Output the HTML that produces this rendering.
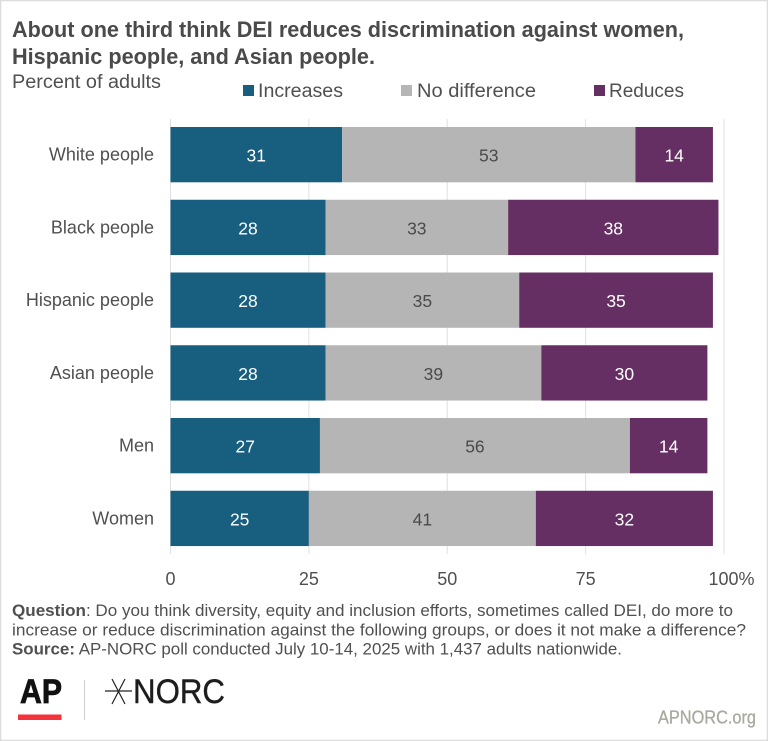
<!DOCTYPE html>
<html>
<head>
<meta charset="utf-8">
<style>
html,body{margin:0;padding:0;background:#fff;width:768px;height:741px;overflow:hidden}
svg{display:block;font-family:"Liberation Sans",sans-serif}
</style>
</head>
<body>
<svg id="chart" width="768" height="741" viewBox="0 0 768 741" xmlns="http://www.w3.org/2000/svg">
<rect x="0.5" y="0.5" width="767" height="740" fill="#fff" stroke="#dcdcdc" stroke-width="1.5"/>
<g font-weight="700" font-size="22" fill="#4a4a4a">
<text x="12" y="37" textLength="672" lengthAdjust="spacingAndGlyphs">About one third think DEI reduces discrimination against women,</text>
<text x="12" y="64" textLength="363" lengthAdjust="spacingAndGlyphs">Hispanic people, and Asian people.</text>
</g>
<text x="12" y="88" font-size="19" fill="#505050" textLength="149" lengthAdjust="spacingAndGlyphs">Percent of adults</text>
<g font-size="19" fill="#505050">
<g><rect x="243" y="85" width="11" height="11" fill="#175e7f"/><text x="258" y="97" textLength="85" lengthAdjust="spacingAndGlyphs">Increases</text></g>
<g><rect x="401" y="85" width="11" height="11" fill="#b5b5b5"/><text x="417" y="97" textLength="119" lengthAdjust="spacingAndGlyphs">No difference</text></g>
<g><rect x="594" y="85" width="11" height="11" fill="#662f63"/><text x="609" y="97" textLength="75" lengthAdjust="spacingAndGlyphs">Reduces</text></g>
</g>
<g id="grid"></g>
<g id="bars"></g>
<g id="xticks" font-size="18" fill="#505050" text-anchor="middle"></g>
<g font-size="17" fill="#505050">
<text x="12" y="616" textLength="721" lengthAdjust="spacingAndGlyphs"><tspan font-weight="700">Question</tspan>: Do you think diversity, equity and inclusion efforts, sometimes called DEI, do more to</text>
<text x="12" y="635.5" textLength="734" lengthAdjust="spacingAndGlyphs">increase or reduce discrimination against the following groups, or does it not make a difference?</text>
<text x="12" y="654.5" textLength="610" lengthAdjust="spacingAndGlyphs"><tspan font-weight="700">Source:</tspan> AP-NORC poll conducted July 10-14, 2025 with 1,437 adults nationwide.</text>
</g>
<g>
<text x="20" y="703" font-size="34" font-weight="700" fill="#111" stroke="#111" stroke-width="0.8" textLength="42" lengthAdjust="spacingAndGlyphs">AP</text>
<rect x="18" y="714.5" width="43.5" height="5.5" fill="#f5333a"/>
</g>
<rect x="84" y="680" width="1" height="40" fill="#cfcfcf"/>
<g stroke="#222" fill="none">
<path d="M105 691H132" stroke-width="1.2"/>
<path d="M112 679L125 704M125 679L112 704" stroke-width="1.2"/>
<text x="133" y="703" font-size="34" fill="#1d1d1d" stroke="#1d1d1d" stroke-width="0.4" textLength="92" lengthAdjust="spacingAndGlyphs">NORC</text>
</g>
<text x="658" y="723.5" font-size="18" fill="#a8a8a0" stroke="#a8a8a0" stroke-width="0.3" textLength="98" lengthAdjust="spacingAndGlyphs">APNORC.org</text>
</svg>
<script>
const categories = ["White people","Black people","Hispanic people","Asian people","Men","Women"];
const increases = [31,28,28,28,27,25];
const noDifference = [53,33,35,39,56,41];
const reduces = [14,38,35,30,14,32];
const xTicks = [0,25,50,75,100];

const NS = "http://www.w3.org/2000/svg";
const xScale = v => 170.5 + v * 5.535;
const rowTop = i => 127 + i * 72.75;
const barHeight = 55.3;
function mk(tag, parent, attrs) {
  const el = document.createElementNS(NS, tag);
  for (const k in attrs) el.setAttribute(k, attrs[k]);
  parent.appendChild(el);
  return el;
}
const grid = document.getElementById("grid");
const bars = document.getElementById("bars");
const ticks = document.getElementById("xticks");
xTicks.forEach(t => {
  const line = mk("line", grid, {x1:xScale(t), x2:xScale(t), y1:119, y2:554, stroke:"#e0e0e0", "stroke-width":1});
  
  
  const label = mk("text", ticks, {x:xScale(t) + (t === 100 ? 7.5 : 0), y:585});
  label.textContent = t === 100 ? t + "%" : String(t);
  
  
});
const seriesList = [
  {values:increases, color:"#175e7f", text:"#fff", key:"increases"},
  {values:noDifference, color:"#b5b5b5", text:"#4a4a4a", key:"no-difference"},
  {values:reduces, color:"#662f63", text:"#fff", key:"reduces"}
];
categories.forEach((c, i) => {
  const y = rowTop(i);
  const cat = mk("text", bars, {x:154, y:y + 33.5, "text-anchor":"end", "font-size":18, fill:"#505050"});
  cat.textContent = c;
  
  
  let acc = 0;
  seriesList.forEach(s => {
    const v = s.values[i];
    const r = mk("rect", bars, {x:xScale(acc), y:y, width:xScale(acc + v) - xScale(acc), height:barHeight, fill:s.color});
    
    
    const t = mk("text", bars, {x:xScale(acc + v / 2), y:y + 34.5, "text-anchor":"middle", "font-size":17.5, fill:s.text});
    t.textContent = v;
    
    
    acc += v;
  });
});
</script>
</body>
</html>
